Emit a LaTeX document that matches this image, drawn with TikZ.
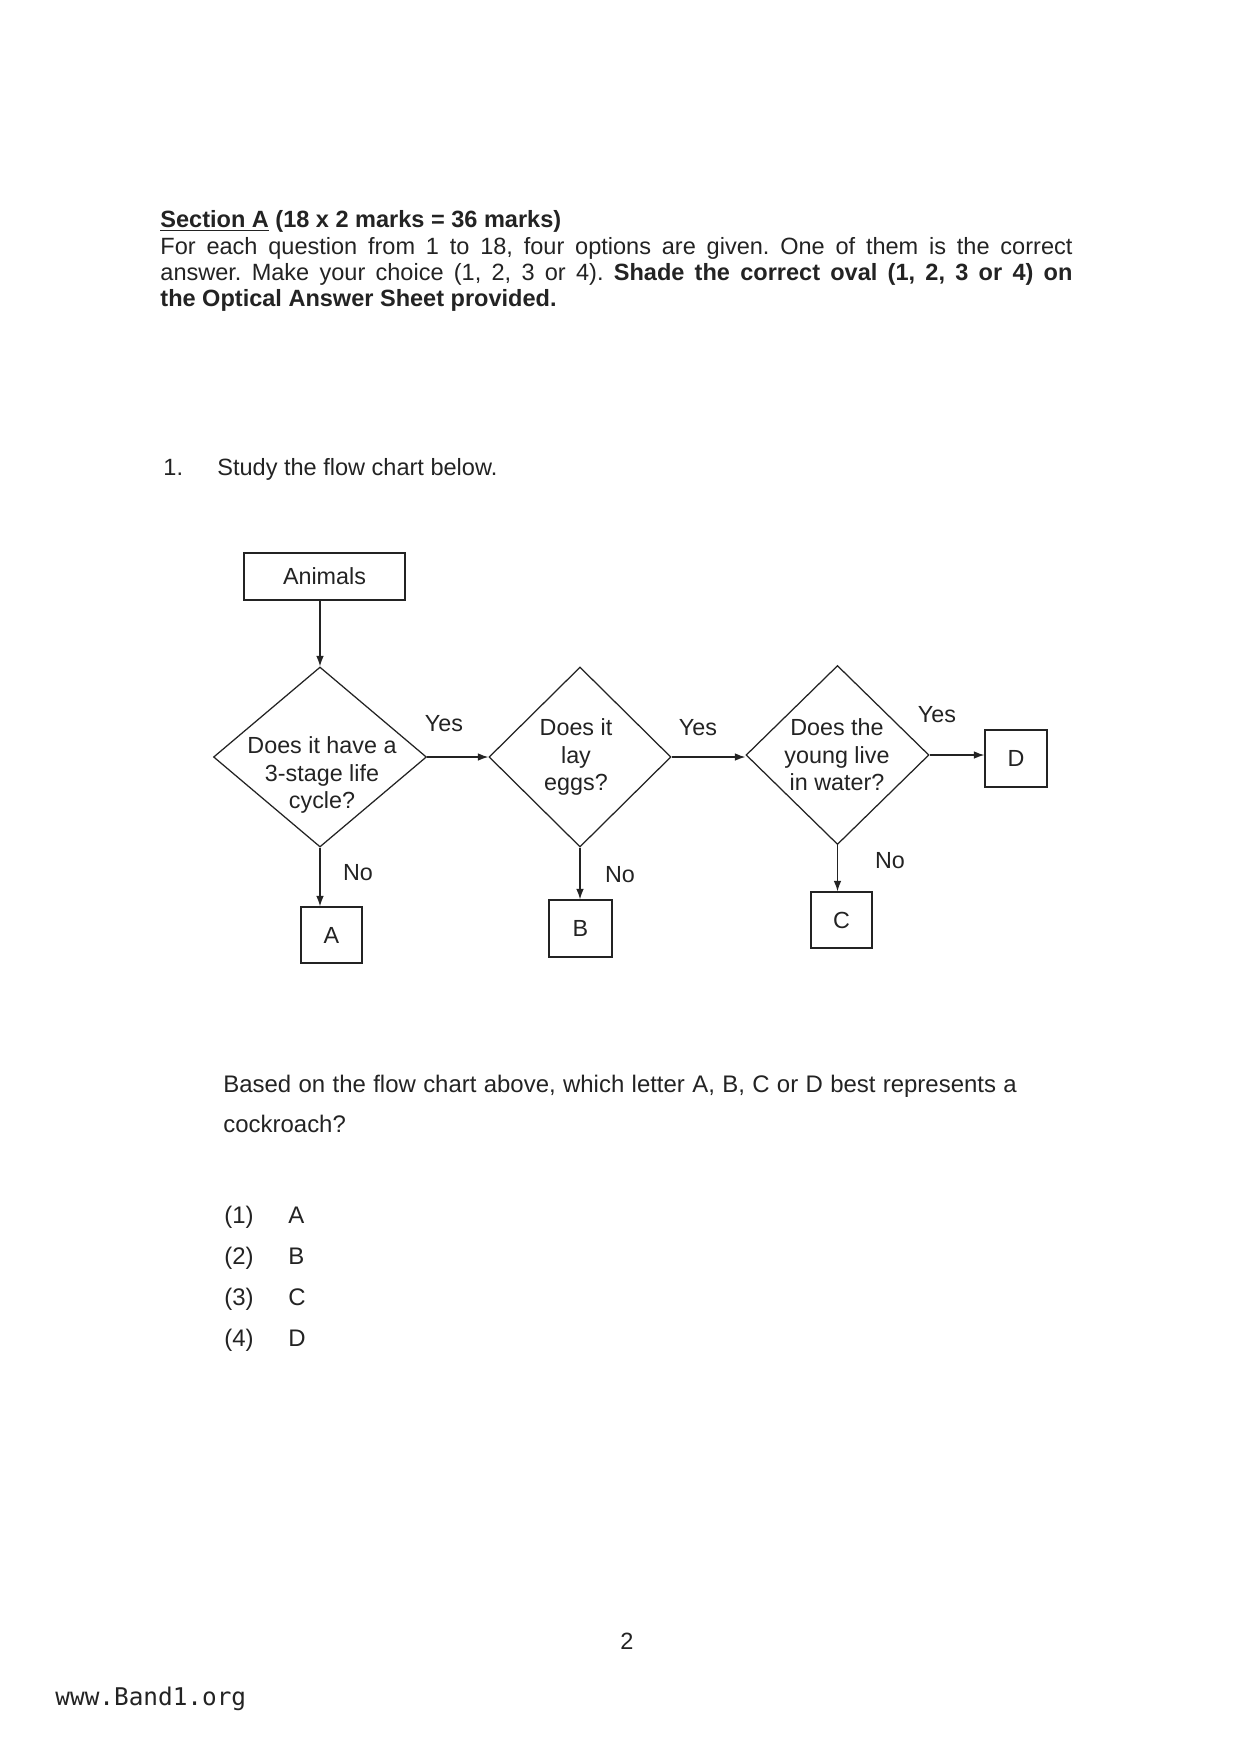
\documentclass[tikz,border=0pt]{standalone}
\usepackage{fontspec}
\setmainfont{Liberation Sans}
\newfontfamily\wwwfont{DejaVu Sans Mono}
\usetikzlibrary{shapes.geometric, arrows.meta}
\definecolor{ink}{RGB}{35,35,35}
\newcommand\hdfont{\fontsize{11.3}{13}\selectfont}
\newcommand\qfont{\fontsize{11.5}{13.5}\selectfont}
\newcommand\flfont{\fontsize{11.2}{13.2}\selectfont}
\frenchspacing
\begin{document}
\begin{tikzpicture}[x=0.480226pt, y=-0.480226pt,
  txt/.style={inner sep=0pt, text=ink, anchor=base west},
  box/.style={draw=ink, line width=0.6pt, inner sep=0pt, font=\flfont, text=ink},
  dia/.style={draw=ink, diamond, line width=0.6pt, inner sep=0pt},
  lbl/.style={inner sep=0pt, font=\flfont, text=ink},
  arr/.style={draw=ink, line width=0.6pt, -{Latex[length=5pt,width=3.6pt]}}
]
\useasboundingbox (0,0) rectangle (1239,1754);
\fill[white] (0,0) rectangle (1239,1754);

% header
\node[txt, font=\hdfont\bfseries] (h1) at (160,227) {\underline{Section A} (18 x 2 marks = 36 marks)};
\node[txt, font=\hdfont] (h2) at (160,254) {\makebox[438pt][s]{For each question from 1 to 18, four options are given. One of them is the correct}};
\node[txt, font=\hdfont] (h3) at (160,280) {\makebox[438pt][s]{answer. Make your choice (1, 2, 3 or 4). \textbf{Shade the correct oval (1, 2, 3 or 4) on}}};
\node[txt, font=\hdfont\bfseries] (h4) at (160,306) {the Optical Answer Sheet provided.};

% question 1
\node[txt, font=\hdfont] (qn) at (163,475) {1.};
\node[txt, font=\hdfont] (qs) at (217,475) {Study the flow chart below.};

% flow chart
\node[box, minimum width={161*0.480226pt}, minimum height={47*0.480226pt}] (anim) at (324.5,576.5) {Animals};

\node[dia, minimum width={213*0.480226pt}, minimum height={180*0.480226pt}] (d1) at (320,757) {};
\node[dia, minimum width={182*0.480226pt}, minimum height={180*0.480226pt}] (d2) at (580,757) {};
\node[dia, minimum width={183*0.480226pt}, minimum height={179*0.480226pt}] (d3) at (837.5,755) {};

\node[lbl, align=center] (t1) at (322,775) {Does it have a\\3-stage life\\cycle?};
\node[lbl, align=center] (t2) at (576,757) {Does it\\lay\\eggs?};
\node[lbl, align=center] (t3) at (837,755) {Does the\\young live\\in water?};

\node[box, minimum width={61*0.480226pt}, minimum height={56*0.480226pt}] (bA) at (331.5,935) {A};
\node[box, minimum width={63*0.480226pt}, minimum height={57*0.480226pt}] (bB) at (580.5,928.5) {B};
\node[box, minimum width={61*0.480226pt}, minimum height={56*0.480226pt}] (bC) at (841.5,920) {C};
\node[box, minimum width={62*0.480226pt}, minimum height={57*0.480226pt}] (bD) at (1016,758.5) {D};

\draw[arr] (d1.north |- anim.south) -- (d1.north);
\draw[arr] (d1.east) -- (d2.west);
\draw[arr] (d2.east) -- (d2.east -| d3.west);
\draw[arr] (d3.east) -- (d3.east -| bD.west);
\draw[arr] (d1.south) -- (d1.south |- bA.north);
\draw[arr] (d2.south) -- (d2.south |- bB.north);
\draw[arr] (d3.south) -- (d3.south |- bC.north);

\node[lbl] (y1) at (444,724) {Yes};
\node[lbl] (y2) at (698,728) {Yes};
\node[lbl] (y3) at (937,715) {Yes};
\node[lbl] (n1) at (358,873) {No};
\node[lbl] (n2) at (620,875) {No};
\node[lbl] (n3) at (890,861) {No};

% question text
\node[txt, font=\qfont] (b1) at (223,1092) {\makebox[381pt][s]{Based on the flow chart above, which letter A, B, C or D best represents a}};
\node[txt, font=\qfont] (b2) at (223,1132) {cockroach?};

\node[txt, font=\qfont] (o1) at (224,1223) {(1)};
\node[txt, font=\qfont] (o1l) at (288,1223) {A};
\node[txt, font=\qfont] (o2) at (224,1264) {(2)};
\node[txt, font=\qfont] (o2l) at (288,1264) {B};
\node[txt, font=\qfont] (o3) at (224,1305) {(3)};
\node[txt, font=\qfont] (o3l) at (288,1305) {C};
\node[txt, font=\qfont] (o4) at (224,1346) {(4)};
\node[txt, font=\qfont] (o4l) at (288,1346) {D};

% footer
\node[inner sep=0pt, text=ink, font=\hdfont] (pg) at (627,1641) {2};
\node[txt, font=\wwwfont\fontsize{11.7}{13}\selectfont] (www) at (55,1705) {www.Band1.org};
\end{tikzpicture}
\end{document}
